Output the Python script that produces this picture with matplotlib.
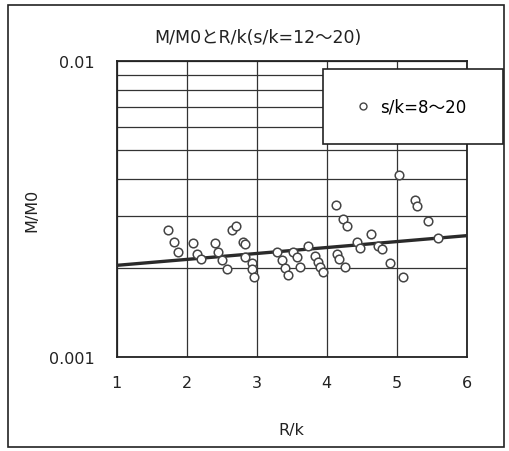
import numpy as np
import matplotlib
matplotlib.use('Agg')
import matplotlib.pyplot as plt
from matplotlib.patches import Rectangle
from matplotlib.lines import Line2D
from matplotlib.ticker import FixedLocator, NullFormatter, LogLocator

plt.rcParams['font.family'] = ['DejaVu Sans', 'Noto Sans CJK JP']

# データ (R/k, M/M0)
rk = [1.74, 1.82, 1.87, 2.09, 2.15, 2.20, 2.40, 2.45, 2.50, 2.58,
      2.64, 2.71, 2.81, 2.83, 2.83, 2.93, 2.93, 2.96, 3.29, 3.36,
      3.40, 3.45, 3.52, 3.58, 3.62, 3.74, 3.83, 3.88, 3.91, 3.95,
      4.14, 4.24, 4.29, 4.15, 4.18, 4.26, 4.43, 4.48, 4.64, 4.74,
      4.79, 4.90, 5.09, 5.04, 5.26, 5.29, 5.45, 5.59]
mm0 = [0.00268, 0.00244, 0.00226, 0.00242, 0.00223, 0.00214, 0.00242, 0.00227, 0.00212, 0.00199,
       0.00268, 0.00276, 0.00245, 0.00240, 0.00217, 0.00208, 0.00199, 0.00187, 0.00226, 0.00212,
       0.00200, 0.00189, 0.00226, 0.00217, 0.00201, 0.00238, 0.00220, 0.00209, 0.00201, 0.00194,
       0.00325, 0.00292, 0.00278, 0.00223, 0.00215, 0.00202, 0.00245, 0.00234, 0.00260, 0.00238,
       0.00232, 0.00207, 0.00186, 0.00412, 0.00340, 0.00323, 0.00287, 0.00253]

# 近似線
fit_x = [1, 6]
fit_y = [0.00204, 0.00257]

W, H = 510, 452
fig = plt.figure(figsize=(W / 100, H / 100), dpi=100)
ax = fig.add_axes([116.7 / W, 1 - 358 / H, 350 / W, 296 / H])

ax.set_yscale('log')
ax.set_xlim(1, 6)
ax.set_ylim(0.001, 0.01)

ax.plot(fit_x, fit_y, color='#2a2a2a', lw=2.4, zorder=3)
ax.plot(rk, mm0, 'o', mfc='white', mec='#444444', mew=1.1, ms=6.2, zorder=4)

ax.xaxis.set_major_locator(FixedLocator([1, 2, 3, 4, 5, 6]))
ax.yaxis.set_major_locator(FixedLocator([0.001, 0.01]))
ax.yaxis.set_minor_locator(LogLocator(base=10, subs=np.arange(2, 10)))
ax.yaxis.set_minor_formatter(NullFormatter())
ax.set_yticklabels(['0.001', '0.01'])
ax.grid(True, which='major', color='#333333', lw=0.9)
ax.grid(True, which='minor', axis='y', color='#333333', lw=0.9)
ax.tick_params(which='both', length=0)
ax.tick_params(axis='x', pad=13, labelsize=11.5, colors='#222222')
ax.tick_params(axis='y', pad=16, labelsize=11.5, colors='#222222')
for s in ax.spines.values():
    s.set_color('#222222')
    s.set_linewidth(1.3)

ax.set_xlabel('R/k', fontsize=11.5, color='#222222', labelpad=23)
ax.set_ylabel('M/M0', fontsize=11.5, color='#222222', labelpad=7)
fig.text(258 / W, 1 - 38 / H, 'M/M0とR/k(s/k=12～20)', ha='center', va='center',
         fontsize=12.5, color='#222222')

# 凡例の枠
fig.patches.append(Rectangle((323 / W, 1 - 145 / H), (503 - 323) / W, 75 / H,
                             transform=fig.transFigure, facecolor='white',
                             edgecolor='#222222', lw=1.2, zorder=5))
handle = Line2D([], [], ls='none', marker='o', mfc='white', mec='#444444',
                mew=1.0, ms=5)
leg = fig.legend([handle], ['s/k=8～20'], loc='center left',
                 bbox_to_anchor=(340 / W, 1 - 108 / H), frameon=False,
                 fontsize=12, handlelength=1.0, handletextpad=0.5)
leg.set_zorder(6)

# 外枠
fig.patches.append(Rectangle((8 / W, 1 - 448 / H), 496 / W, 442 / H,
                             transform=fig.transFigure, facecolor='none',
                             edgecolor='#222222', lw=1.2, zorder=7))

fig.savefig('out.png', dpi=100)
